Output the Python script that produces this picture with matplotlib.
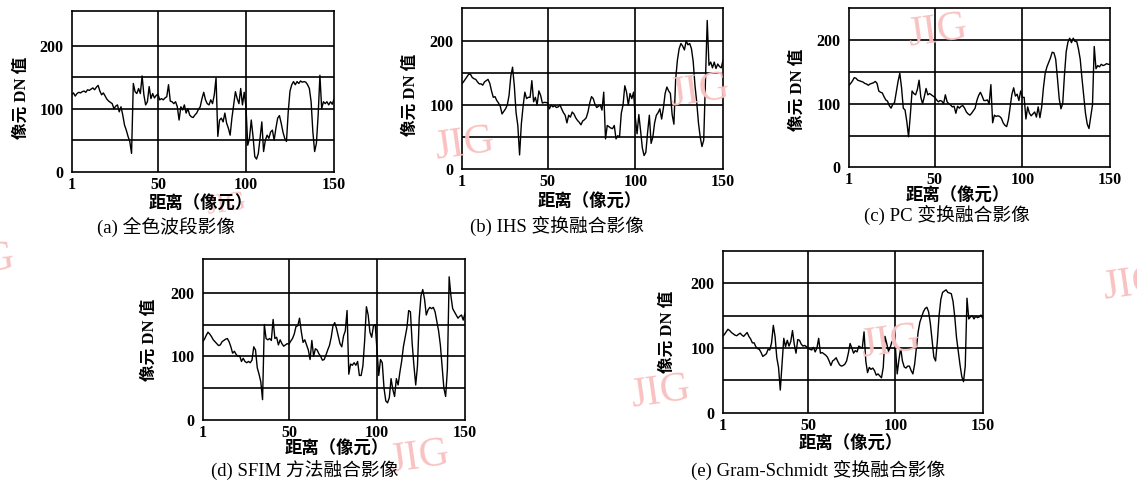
import numpy as np
import matplotlib
matplotlib.use("Agg")
import matplotlib.pyplot as plt

# ---------------- data ----------------
x_pixels = list(range(1, 151))

pan_dn = [122,125,120,124,126,125,127,128,126,130,
          129,131,133,130,134,137,128,122,125,120,
          115,112,110,108,100,104,106,95,103,90,
          74,66,56,48,29,140,127,124,132,124,
          152,122,106,111,135,116,124,117,121,123,
          114,116,114,117,119,138,112,111,108,111,
          103,82,103,98,106,93,100,90,87,86,
          90,93,99,103,116,126,114,108,106,114,
          108,122,149,56,82,85,79,93,77,69,
          58,85,106,127,116,108,132,106,126,103,
          42,53,82,56,24,20,29,53,79,32,
          50,58,53,63,66,50,69,85,89,77,
          63,53,48,95,128,138,143,138,143,140,
          144,142,143,142,138,132,111,63,32,45,
          90,153,100,111,108,111,106,111,107,115]

ihs_dn = [133,136,140,144,148,148,143,141,140,136,
          133,133,131,136,138,140,134,122,112,113,
          107,103,98,86,90,94,100,115,145,159,
          130,88,68,22,70,98,120,110,112,112,
          138,105,112,100,122,115,103,104,104,103,
          94,100,97,99,96,97,100,94,88,84,
          72,84,81,89,86,80,76,73,69,75,
          77,80,89,103,113,110,101,96,98,100,
          92,120,47,68,66,64,63,68,47,52,
          50,87,100,130,120,100,118,110,120,80,
          55,85,60,33,21,26,57,84,40,50,
          72,84,88,94,78,95,118,128,122,118,
          85,70,140,170,188,196,192,186,200,194,
          196,188,168,131,105,72,50,35,45,140,
          232,162,167,158,167,157,164,160,158,170]

pc_dn = [129,132,136,141,140,137,136,135,134,132,
         131,129,131,132,133,135,132,120,118,117,
         111,106,104,97,93,99,102,118,135,148,
         125,93,90,72,48,82,120,116,114,122,
         137,110,100,111,124,114,116,114,112,110,
         106,103,105,104,100,114,103,100,98,95,
         96,85,96,93,96,97,93,87,84,82,
         85,89,93,105,113,118,112,105,105,106,
         100,130,70,82,80,81,80,77,70,66,
         64,75,95,115,125,112,115,105,120,110,
         110,76,95,85,81,84,87,79,95,78,
         95,125,148,158,165,172,181,180,170,140,
         108,92,100,145,182,197,203,196,203,198,
         198,186,170,140,112,85,68,61,80,98,
         190,155,160,158,162,160,161,163,162,162]

sfim_dn = [123,127,133,138,135,131,126,123,120,117,
           118,123,125,127,128,123,115,105,108,103,
           100,101,92,97,92,90,92,90,94,115,
           110,82,72,60,32,150,128,126,128,125,
           158,128,130,118,126,120,116,118,120,119,
           124,128,135,147,148,160,139,122,126,118,
           110,95,125,100,112,110,104,100,94,95,
           102,110,117,130,148,153,144,132,120,115,
           132,140,172,72,88,86,90,86,92,70,
           70,85,125,178,165,138,130,148,150,110,
           70,95,90,50,30,27,35,65,48,37,
           65,55,75,92,115,130,145,172,170,120,
           85,55,85,160,195,205,190,165,173,177,
           175,177,170,155,140,118,85,50,37,80,
           225,195,175,170,165,160,163,165,157,168]

gs_dn = [118,121,125,129,127,124,122,120,119,121,
         123,120,118,121,124,118,114,108,108,102,
         99,98,93,87,89,91,98,97,108,135,
         118,85,70,35,75,115,102,112,103,110,
         127,106,92,113,112,106,103,104,102,100,
         98,97,101,94,100,115,92,93,91,89,
         86,80,73,80,82,85,79,74,72,73,
         75,80,92,107,100,92,96,94,103,101,
         100,125,80,62,70,67,69,65,58,60,
         57,54,70,118,107,95,101,110,109,100,
         60,82,100,80,71,69,72,72,65,60,
         75,100,125,140,148,156,161,163,156,138,
         112,86,80,110,150,175,186,188,190,186,
         185,184,172,148,116,95,74,56,48,72,
         177,145,148,150,145,149,147,148,151,146]

series = [pan_dn, ihs_dn, pc_dn, sfim_dn, gs_dn]
captions = ["(a) 全色波段影像", "(b) IHS 变换融合影像", "(c) PC 变换融合影像",
            "(d) SFIM 方法融合影像", "(e) Gram-Schmidt 变换融合影像"]
x_ticks = [1, 50, 100, 150]
y_ticks = [0, 100, 200]
h_grid = [50, 100, 150, 200]
v_grid = [50, 100]
x_label = "距离（像元）"
y_label = "像元 DN 值"
watermark = "JIG"

# ---------------- layout (pixel geometry) ----------------
W, H = 1137, 486
fig = plt.figure(figsize=(W / 100, H / 100), dpi=100)
fig.patch.set_facecolor("white")

# axes boxes: left, top, right, bottom in pixels
boxes = [(71.7, 11, 334, 171.7),
         (461.7, 8.3, 723, 169),
         (849, 7.7, 1110, 167.3),
         (202.7, 259, 465, 420),
         (722.7, 251, 982.7, 412.7)]
ytops = [255, 251, 251, 253, 250]
xlabel_pos = [(201, 204), (590, 202), (958, 196), (337, 449), (851, 444)]
caption_pos = [(166, 227), (557, 226), (947, 215), (305, 471), (818, 470)]
ylabel_pos = [(22, 98), (411, 95), (798, 90), (150, 340), (668, 332)]

serif = ["Liberation Serif", "Noto Sans CJK SC"]


def fx(px):
    return px / W


def fy(py):
    return 1 - py / H


# watermarks (faint pink)
wm_color = "#f9c2c2"
wm_specs = [((464, 145), "center", 30), ((699, 92), "center", 30),
            ((937, 32), "center", 30), ((890, 343), "center", 30),
            ((660, 393), "center", 30), ((419, 458), "center", 30),
            ((1100, 285), "left", 30), ((17, 262), "right", 30),
            ((226, 205), "center", 20)]
for (wx, wy), ha, fs in wm_specs:
    fig.text(fx(wx), fy(wy), watermark, color=wm_color, fontsize=fs,
             family="Liberation Serif", ha=ha, va="center",
             rotation=8, zorder=0)

for i, vals in enumerate(series):
    l, t, r, b = boxes[i]
    ax = fig.add_axes([fx(l), fy(b), (r - l) / W, (b - t) / H])
    ax.set_facecolor("none")
    ax.set_xlim(1, 150)
    ax.set_ylim(0, ytops[i])
    for g in h_grid:
        ax.axhline(g, color="black", lw=1.2, zorder=1)
    for g in v_grid:
        ax.axvline(g, color="black", lw=1.2, zorder=1)
    ax.plot(x_pixels, vals, color="black", lw=1.0, zorder=2)
    ax.set_xticks(x_ticks)
    ax.set_yticks(y_ticks)
    ax.tick_params(axis="x", length=0, pad=3.5)
    ax.tick_params(axis="y", length=0, pad=6)
    for lab in ax.get_xticklabels() + ax.get_yticklabels():
        lab.set_fontfamily("Liberation Serif")
        lab.set_fontweight("bold")
        lab.set_fontsize(11.5)
    for sp in ax.spines.values():
        sp.set_linewidth(1.2)
        sp.set_color("black")

    xx, yy = xlabel_pos[i]
    fig.text(fx(xx), fy(yy), x_label, ha="center", va="center",
             family=serif, fontweight="bold", fontsize=12.5)
    cx, cy = caption_pos[i]
    fig.text(fx(cx), fy(cy), captions[i], ha="center", va="center",
             family=serif, fontsize=13.5)
    lx, ly = ylabel_pos[i]
    fig.text(fx(lx), fy(ly), y_label, ha="center", va="center",
             rotation=90, family=serif, fontweight="bold", fontsize=12)

fig.savefig("out.png", dpi=100, facecolor="white")
